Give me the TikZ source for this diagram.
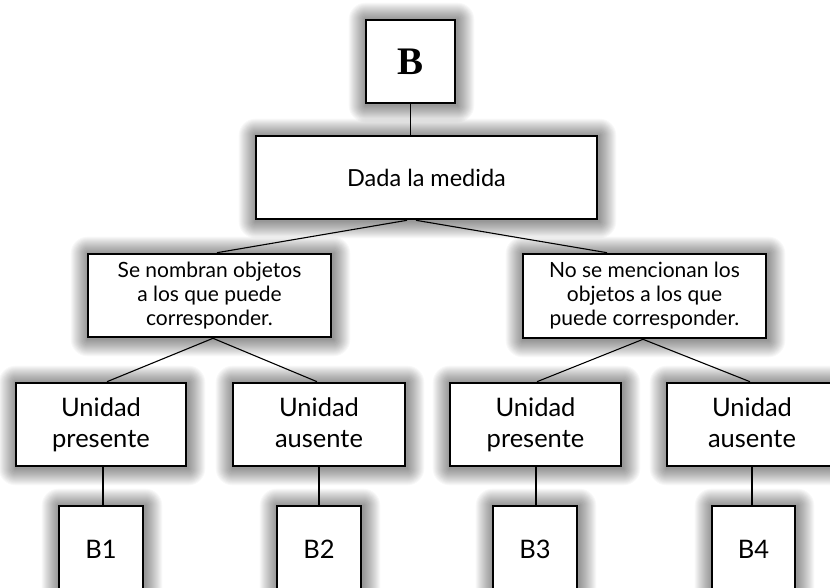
\documentclass[tikz,border=0pt]{standalone}
\usepackage{fontspec}
\setmainfont{Lato}
\newfontfamily\headfont{Liberation Serif}
\usetikzlibrary{backgrounds}
\begin{document}
\begin{tikzpicture}[x=1pt,y=-1pt,
  box/.style={draw=black, line width=2.6pt, fill=white, inner sep=0pt, align=center},
  link/.style={draw=black, line width=1.1pt},
  glowstep/.style={fill=black, opacity=0.026},
  midtext/.style={font=\fontsize{21}{24}\selectfont},
  unittext/.style={font=\fontsize{25.5}{31}\selectfont},
  leaftext/.style={font=\fontsize{25.5}{30}\selectfont}]
\begin{pgfonlayer}{background}
  \fill[white] (0,0) rectangle (830,588);
\end{pgfonlayer}
\useasboundingbox (0,0) rectangle (830,588);
\clip (0,0) rectangle (830,588);

% root and first question
\node[box, minimum width=89pt, minimum height=83pt, font=\headfont\bfseries\fontsize{39}{40}\selectfont] (root) at (410.5,61.5) {B};
\node[box, minimum width=341pt, minimum height=83pt, font=\fontsize{23.5}{28}\selectfont] (dada) at (426.5,177.5) {Dada la medida};

% second level
\node[box, minimum width=243pt, minimum height=83pt, midtext] (lmid) at (209.5,295.5) {Se nombran objetos\\a los que puede\\corresponder.};
\node[box, minimum width=243pt, minimum height=84pt, midtext] (rmid) at (644.5,296) {No se mencionan los\\objetos a los que\\puede corresponder.};

% third level
\node[box, minimum width=170pt, minimum height=83pt, unittext] (u1) at (101,424.5) {Unidad\\presente};
\node[box, minimum width=172pt, minimum height=83pt, unittext] (u2) at (319,424.5) {Unidad\\ausente\vphantom{p}};
\node[box, minimum width=171pt, minimum height=83pt, unittext] (u3) at (535.5,424.5) {Unidad\\presente};
\node[box, minimum width=170pt, minimum height=83pt, unittext] (u4) at (752,424.5) {Unidad\\ausente\vphantom{p}};

% leaves
\node[box, minimum width=84pt, minimum height=86pt, leaftext] (b1) at (101,549) {B1};
\node[box, minimum width=84pt, minimum height=86pt, leaftext] (b2) at (319,549) {B2};
\node[box, minimum width=84pt, minimum height=86pt, leaftext] (b3) at (535,549) {B3};
\node[box, minimum width=83pt, minimum height=86pt, leaftext] (b4) at (753.5,549) {B4};

% soft grey halo behind every box
\begin{pgfonlayer}{background}
  \foreach \n in {root,dada,lmid,rmid,u1,u2,u3,u4,b1,b2,b3,b4}{
    \foreach \k in {1,...,17}{
      \fill[glowstep, rounded corners=\k pt]
        ([shift={(-\k+1,-\k+1)}]\n.north west) rectangle ([shift={(\k+1,\k+1)}]\n.south east);
    }
  }
\end{pgfonlayer}

% connectors
\coordinate (dj) at (dada.south -| root.south);
\draw[link] (root.south) -- (root.south |- dada.north);
\draw[link] ([xshift=-3.5pt]dj) -- ([xshift=7.5pt]lmid.north);
\draw[link] ([xshift=5.5pt]dj) -- ([xshift=-37.5pt]rmid.north);
\draw[link] ([xshift=3.5pt]lmid.south) -- ([xshift=6pt]u1.north);
\draw[link] ([xshift=3.5pt]lmid.south) -- ([xshift=-2pt]u2.north);
\draw[link] ([xshift=-1.5pt]rmid.south) -- ([xshift=1.5pt]u3.north);
\draw[link] ([xshift=-1.5pt]rmid.south) -- ([xshift=-2pt]u4.north);
\draw[link] ([xshift=2pt]u1.south) -- ([xshift=2pt]b1.north);
\draw[link] (u2.south) -- (b2.north);
\draw[link] ([xshift=0.5pt]u3.south) -- ([xshift=1pt]b3.north);
\draw[link] (u4.south) -- ([xshift=-1.5pt]b4.north);
\end{tikzpicture}
\end{document}
